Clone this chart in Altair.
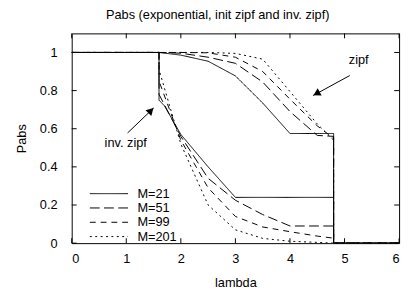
import altair as alt
import pandas as pd

# ---- data ----
series_labels = ["M=21", "M=51", "M=99", "M=201"]

zipf_x = {
    "M=21":  [0, 1.6, 2.0, 2.5, 3.0, 3.5, 4.0, 4.8, 4.8, 6],
    "M=51":  [0, 1.6, 2.0, 2.5, 3.0, 3.5, 4.0, 4.5, 4.8, 4.8, 6],
    "M=99":  [0, 1.6, 2.0, 2.5, 3.0, 3.5, 4.0, 4.5, 4.8, 4.8, 6],
    "M=201": [0, 1.6, 2.0, 2.5, 3.0, 3.5, 4.0, 4.5, 4.8, 4.8, 6],
}
zipf_y = {
    "M=21":  [1, 1, 0.986, 0.954, 0.877, 0.735, 0.575, 0.575, 0, 0],
    "M=51":  [1, 1, 0.996, 0.975, 0.943, 0.845, 0.69, 0.565, 0.56, 0, 0],
    "M=99":  [1, 1, 1.0, 0.998, 0.975, 0.9, 0.755, 0.615, 0.55, 0, 0],
    "M=201": [1, 1, 1.0, 1.0, 0.995, 0.965, 0.795, 0.625, 0.54, 0, 0],
}
inv_x = {
    "M=21":  [0, 1.6, 1.6, 1.7, 2.0, 2.5, 3.0, 4.8, 4.8, 6],
    "M=51":  [0, 1.6, 1.6, 2.0, 2.5, 3.0, 3.5, 4.0, 4.8, 4.8, 6],
    "M=99":  [0, 1.6, 1.6, 2.0, 2.5, 3.0, 3.5, 4.0, 4.5, 4.8, 4.8, 6],
    "M=201": [0, 1.6, 1.6, 2.0, 2.5, 3.0, 3.5, 4.0, 4.5, 4.8, 6],
}
inv_y = {
    "M=21":  [1, 1, 0.75, 0.72, 0.57, 0.40, 0.24, 0.24, 0, 0],
    "M=51":  [1, 1, 0.78, 0.56, 0.34, 0.225, 0.15, 0.09, 0.09, 0, 0],
    "M=99":  [1, 1, 0.85, 0.54, 0.29, 0.14, 0.085, 0.06, 0.037, 0.026, 0, 0],
    "M=201": [1, 1, 0.91, 0.52, 0.20, 0.07, 0.025, 0.01, 0.004, 0, 0],
}
dash_patterns = [[1, 0], [10, 4.5], [6, 5], [2, 3.5]]

x_ticks = [0, 1, 2, 3, 4, 5, 6]
y_ticks = [0, 0.2, 0.4, 0.6, 0.8, 1.0]

note_text = ["zipf", "inv. zipf"]
note_x = [5.26, 0.99]
note_y = [0.962, 0.526]
arrow_x = [5.096, 1.024]
arrow_y = [0.879, 0.578]
arrow_x2 = [4.424, 1.503]
arrow_y2 = [0.774, 0.709]
head_x = [4.487, 1.452]
head_y = [0.784, 0.695]
head_angle = [241, 45]

# ---- build tables ----
rows = []
for init, xs, ys in (("zipf", zipf_x, zipf_y), ("inv", inv_x, inv_y)):
    for m in series_labels:
        for i, (a, b) in enumerate(zip(xs[m], ys[m])):
            rows.append({"lambda": a, "Pabs": b, "M": m, "init": init, "order": i})
df = pd.DataFrame(rows)

notes = pd.DataFrame({"t": note_text, "x": note_x, "y": note_y})
arrows = pd.DataFrame({"x": arrow_x, "y": arrow_y, "x2": arrow_x2, "y2": arrow_y2,
                       "hx": head_x, "hy": head_y, "ang": head_angle})
xt = pd.DataFrame({"v": x_ticks})
yt = pd.DataFrame({"v": y_ticks})

W, H = 334, 214
FONT = "Liberation Sans"
FS = 13

xscale = alt.Scale(domain=[0, 6], nice=False, zero=False)
yscale = alt.Scale(domain=[0, 1.1], nice=False, zero=False)

lines = alt.Chart(df).mark_line(color="black", strokeWidth=1, clip=True).encode(
    x=alt.X("lambda:Q", scale=xscale,
            axis=alt.Axis(values=x_ticks, format="d", title="lambda", grid=False,
                          domain=False, ticks=False, labelPadding=10, titlePadding=11)),
    y=alt.Y("Pabs:Q", scale=yscale,
            axis=alt.Axis(values=y_ticks, format="~g", title="Pabs", grid=False,
                          domain=False, ticks=False, labelPadding=15, titlePadding=11)),
    strokeDash=alt.StrokeDash(
        "M:N",
        scale=alt.Scale(domain=series_labels, range=dash_patterns),
        legend=alt.Legend(title=None, orient="none", legendX=31, legendY=156.5,
                          symbolType="M-3,0H3", symbolSize=169, symbolStrokeWidth=1,
                          symbolStrokeColor="black", symbolFillColor="transparent",
                          labelFontSize=FS, labelFont=FONT,
                          labelColor="black", labelOffset=22, rowPadding=0.6, padding=0),
    ),
    detail="init:N",
    order="order:Q",
)

text_notes = alt.Chart(notes).mark_text(font=FONT, fontSize=FS, color="black").encode(
    x=alt.X("x:Q", scale=xscale), y=alt.Y("y:Q", scale=yscale), text="t:N")

arrow_lines = alt.Chart(arrows).mark_rule(color="black", strokeWidth=1).encode(
    x=alt.X("x:Q", scale=xscale), y=alt.Y("y:Q", scale=yscale), x2="x2:Q", y2="y2:Q")

arrow_heads = alt.Chart(arrows).mark_point(shape="triangle-up", filled=True, color="black",
                                           opacity=1, size=70).encode(
    x=alt.X("hx:Q", scale=xscale), y=alt.Y("hy:Q", scale=yscale), angle=alt.Angle("ang:Q", scale=None))

tick_b = alt.Chart(xt).mark_rule(color="black").encode(
    x=alt.X("v:Q", scale=xscale), y=alt.value(H), y2=alt.value(H - 5))
tick_t = alt.Chart(xt).mark_rule(color="black").encode(
    x=alt.X("v:Q", scale=xscale), y=alt.value(0), y2=alt.value(5))
tick_l = alt.Chart(yt).mark_rule(color="black").encode(
    y=alt.Y("v:Q", scale=yscale), x=alt.value(0), x2=alt.value(5))
tick_r = alt.Chart(yt).mark_rule(color="black").encode(
    y=alt.Y("v:Q", scale=yscale), x=alt.value(W), x2=alt.value(W - 5))

chart = alt.layer(
    tick_b, tick_t, tick_l, tick_r, lines, arrow_lines, arrow_heads, text_notes
).properties(
    width=W, height=H,
    background="white",
    title=alt.TitleParams("Pabs (exponential, init zipf and inv. zipf)", font=FONT,
                          fontSize=FS, fontWeight="normal", color="black",
                          anchor="middle", dx=-18, offset=11),
    autosize=alt.AutoSizeParams(type="none"),
    padding={"left": 65, "top": 23, "right": 5, "bottom": 50},
).configure_view(
    stroke="black", strokeWidth=1
).configure_axis(
    labelFont=FONT, labelFontSize=FS, labelColor="black",
    titleFont=FONT, titleFontSize=FS, titleFontWeight="normal", titleColor="black",
)

chart.save("out.html", embed_options={"renderer": "svg", "actions": False})
